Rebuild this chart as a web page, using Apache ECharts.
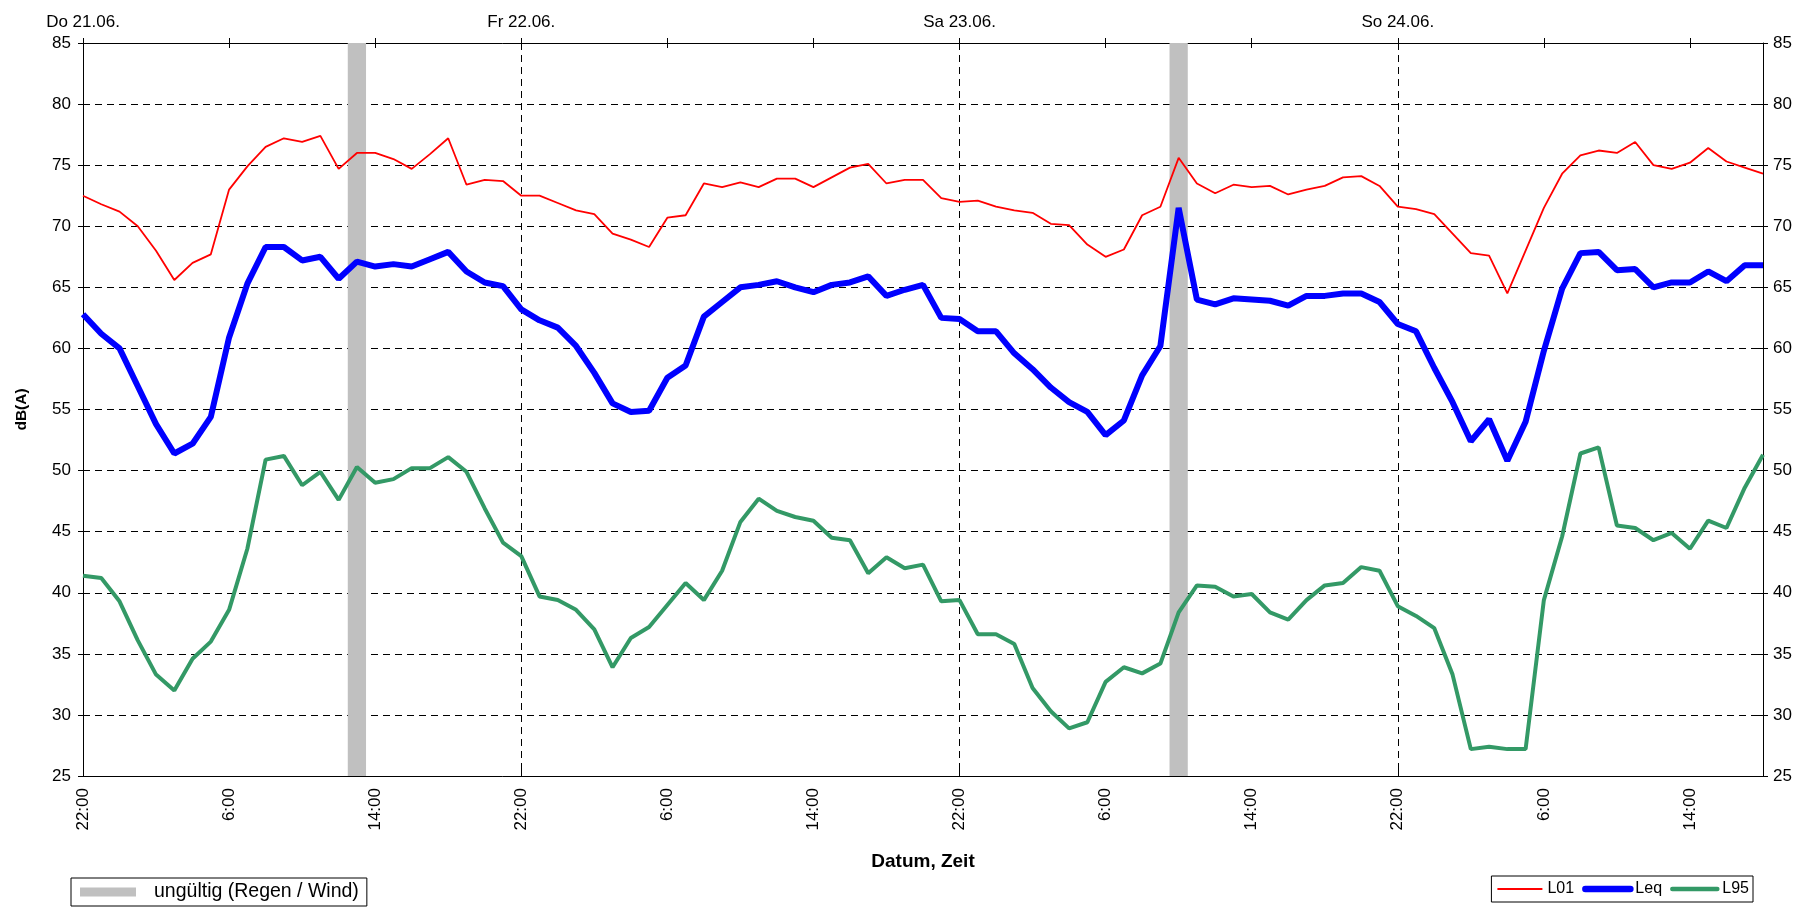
<!DOCTYPE html>
<html>
<head>
<meta charset="utf-8">
<script src="https://cdn.jsdelivr.net/npm/echarts@6/dist/echarts.min.js"></script>
<style>html,body{margin:0;padding:0;background:#fff}#c{width:1802px;height:908px}</style>
</head>
<body>
<div id="c"></div>
<script>
// Hourly values from Do 21.06. 22:00 to So 24.06. 18:00
const L01 = [72.5,71.8,71.2,70.0,68.0,65.6,67.0,67.7,73.0,74.9,76.5,77.2,76.9,77.4,74.7,76.0,76.0,75.5,74.7,75.9,77.2,73.4,73.8,73.7,
  72.5,72.5,71.9,71.3,71.0,69.4,68.9,68.3,70.7,70.9,73.5,73.2,73.6,73.2,73.9,73.9,73.2,74.0,74.8,75.1,73.5,73.8,73.8,72.3,
  72.0,72.1,71.6,71.3,71.1,70.2,70.1,68.5,67.5,68.1,70.9,71.6,75.6,73.5,72.7,73.4,73.2,73.3,72.6,73.0,73.3,74.0,74.1,73.3,
  71.6,71.4,71.0,69.4,67.8,67.6,64.5,68.0,71.5,74.3,75.8,76.2,76.0,76.9,75.0,74.7,75.2,76.4,75.3,74.8,74.3];
const Leq = [62.8,61.2,60.0,56.9,53.8,51.4,52.2,54.4,60.9,65.3,68.3,68.3,67.2,67.5,65.7,67.1,66.7,66.9,66.7,67.3,67.9,66.3,65.4,65.1,
  63.2,62.3,61.7,60.2,58.0,55.5,54.8,54.9,57.6,58.6,62.6,63.8,65.0,65.2,65.5,65.0,64.6,65.2,65.4,65.9,64.3,64.8,65.2,62.5,
  62.4,61.4,61.4,59.6,58.3,56.8,55.6,54.8,52.9,54.1,57.8,60.2,71.5,64.0,63.6,64.1,64.0,63.9,63.5,64.3,64.3,64.5,64.5,63.8,
  62.0,61.4,58.4,55.6,52.4,54.2,50.8,54.0,59.8,64.9,67.8,67.9,66.4,66.5,65.0,65.4,65.4,66.3,65.5,66.8,66.8];
const L95 = [41.4,41.2,39.3,36.1,33.3,32.0,34.6,36.0,38.6,43.6,50.9,51.2,48.8,49.9,47.6,50.3,49.0,49.3,50.2,50.2,51.1,49.9,46.9,44.1,
  43.0,39.7,39.4,38.6,37.0,33.9,36.3,37.2,39.0,40.8,39.4,41.8,45.8,47.7,46.7,46.2,45.9,44.5,44.3,41.6,42.9,42.0,42.3,39.3,
  39.4,36.6,36.6,35.8,32.2,30.3,28.9,29.4,32.7,33.9,33.4,34.2,38.4,40.6,40.5,39.7,39.9,38.4,37.8,39.4,40.6,40.8,42.1,41.8,
  38.9,38.1,37.1,33.3,27.2,27.4,27.2,27.2,39.4,44.6,51.4,51.9,45.5,45.3,44.3,44.9,43.6,45.9,45.3,48.6,51.3];
const startHour = 22;
const categories = L01.map((_, i) => ((startHour + i) % 24) + ':00');
const dayLabels = ['Do 21.06.', 'Fr 22.06.', 'Sa 23.06.', 'So 24.06.'];
const topCategories = categories.map((_, i) => (i % 24 === 0 ? dayLabels[i / 24] : ''));
const invalidIdx = [15, 60]; // hours marked "ungültig"
const yMin = 25, yMax = 85, yStep = 5;
const invalidBar = categories.map((_, i) => (invalidIdx.includes(i) ? yMax : '-'));

const FONT = '"Liberation Sans", Arial, sans-serif';
const COLORS = {L01: '#ff0000', Leq: '#0000ff', L95: '#339966', invalid: '#c0c0c0'};
const WIDTHS = {L01: 1.8, Leq: 6, L95: 4};
const chart = echarts.init(document.getElementById('c'), null, {renderer: 'canvas'});
const dash = [7, 5];
const option = {
  animation: false,
  backgroundColor: '#fff',
  textStyle: {fontFamily: FONT, color: '#000'},
  grid: {left: 83, right: 39, top: 43, bottom: 132},
  legend: [
    {
      data: ['ungültig (Regen / Wind)'], left: 71, top: 878,
      borderColor: '#000', borderWidth: 1, padding: [4, 8, 4, 9],
      icon: 'rect', itemWidth: 56, itemHeight: 9,
      textStyle: {fontSize: 19.5, color: '#000', fontFamily: FONT, padding: [0, 0, 0, 13]}
    },
    {
      data: ['L01', 'Leq', 'L95'].map(n => ({
        name: n,
        lineStyle: {color: COLORS[n], width: WIDTHS[n] + (n === 'L01' ? 0.2 : 0.5), cap: n === 'L01' ? 'butt' : 'round'},
        itemStyle: {opacity: 0}
      })),
      right: 49, top: 876,
      borderColor: '#000', borderWidth: 1, padding: [5, 4, 5, 5],
      itemWidth: 45, itemHeight: 14, itemGap: 8,
      itemStyle: {opacity: 0},
      textStyle: {fontSize: 16, color: '#000', fontFamily: FONT}
    }
  ],
  xAxis: [
    {
      type: 'category', data: categories, boundaryGap: false, position: 'bottom',
      axisLine: {lineStyle: {color: '#000', width: 1}},
      axisTick: {interval: 23, inside: true, length: 10, lineStyle: {color: '#000'}},
      axisLabel: {interval: 7, rotate: 90, fontSize: 17, color: '#000', margin: 12, fontFamily: FONT},
      splitLine: {show: true, interval: 23, lineStyle: {color: '#000', type: dash}},
      name: 'Datum, Zeit', nameLocation: 'middle', nameGap: 76,
      nameTextStyle: {fontWeight: 'bold', fontSize: 19, color: '#000', fontFamily: FONT}
    },
    {
      type: 'category', data: topCategories, boundaryGap: false, position: 'top',
      axisLine: {lineStyle: {color: '#000', width: 1}},
      axisTick: {interval: 7, length: 5, lineStyle: {color: '#000'}},
      axisLabel: {interval: 23, fontSize: 17, color: '#000', margin: 12, fontFamily: FONT},
      splitLine: {show: false}
    },
    {
      type: 'category', data: topCategories, boundaryGap: false, position: 'top',
      axisLine: {show: false},
      axisTick: {interval: 7, inside: true, length: 5, lineStyle: {color: '#000'}},
      axisLabel: {show: false}, splitLine: {show: false}
    }
  ],
  yAxis: [
    {
      type: 'value', min: yMin, max: yMax, interval: yStep, position: 'left',
      axisLine: {show: true, lineStyle: {color: '#000', width: 1}},
      axisTick: {show: true, length: 5, lineStyle: {color: '#000'}},
      axisLabel: {fontSize: 17, color: '#000', margin: 12, fontFamily: FONT},
      splitLine: {show: true, lineStyle: {color: '#000', type: dash}},
      name: 'dB(A)', nameLocation: 'middle', nameGap: 53,
      nameTextStyle: {fontWeight: 'bold', fontSize: 15.5, color: '#000', fontFamily: FONT}
    },
    {
      type: 'value', min: yMin, max: yMax, interval: yStep, position: 'right',
      axisLine: {show: true, lineStyle: {color: '#000', width: 1}},
      axisTick: {show: true, length: 5, lineStyle: {color: '#000'}},
      axisLabel: {fontSize: 17, color: '#000', margin: 10, fontFamily: FONT},
      splitLine: {show: false}
    },
    {
      type: 'value', min: yMin, max: yMax, interval: yStep, position: 'left',
      axisLine: {show: false}, axisTick: {show: true, inside: true, length: 5, lineStyle: {color: '#000'}},
      axisLabel: {show: false}, splitLine: {show: false}
    },
    {
      type: 'value', min: yMin, max: yMax, interval: yStep, position: 'right',
      axisLine: {show: false}, axisTick: {show: true, inside: true, length: 5, lineStyle: {color: '#000'}},
      axisLabel: {show: false}, splitLine: {show: false}
    }
  ],
  series: [
    {
      name: 'ungültig (Regen / Wind)', type: 'bar', data: invalidBar, barWidth: '100%',
      itemStyle: {color: COLORS.invalid}, xAxisIndex: 0, yAxisIndex: 0, z: 1, silent: true
    },
    {
      name: 'L01', type: 'line', data: L01, symbol: 'none', xAxisIndex: 0, yAxisIndex: 0, z: 3,
      lineStyle: {color: COLORS.L01, width: WIDTHS.L01}, itemStyle: {color: COLORS.L01}
    },
    {
      name: 'Leq', type: 'line', data: Leq, symbol: 'none', xAxisIndex: 0, yAxisIndex: 0, z: 3,
      lineStyle: {color: COLORS.Leq, width: WIDTHS.Leq}, itemStyle: {color: COLORS.Leq}
    },
    {
      name: 'L95', type: 'line', data: L95, symbol: 'none', xAxisIndex: 0, yAxisIndex: 0, z: 3,
      lineStyle: {color: COLORS.L95, width: WIDTHS.L95}, itemStyle: {color: COLORS.L95}
    }
  ]
};
chart.setOption(option);
</script>
</body>
</html>
